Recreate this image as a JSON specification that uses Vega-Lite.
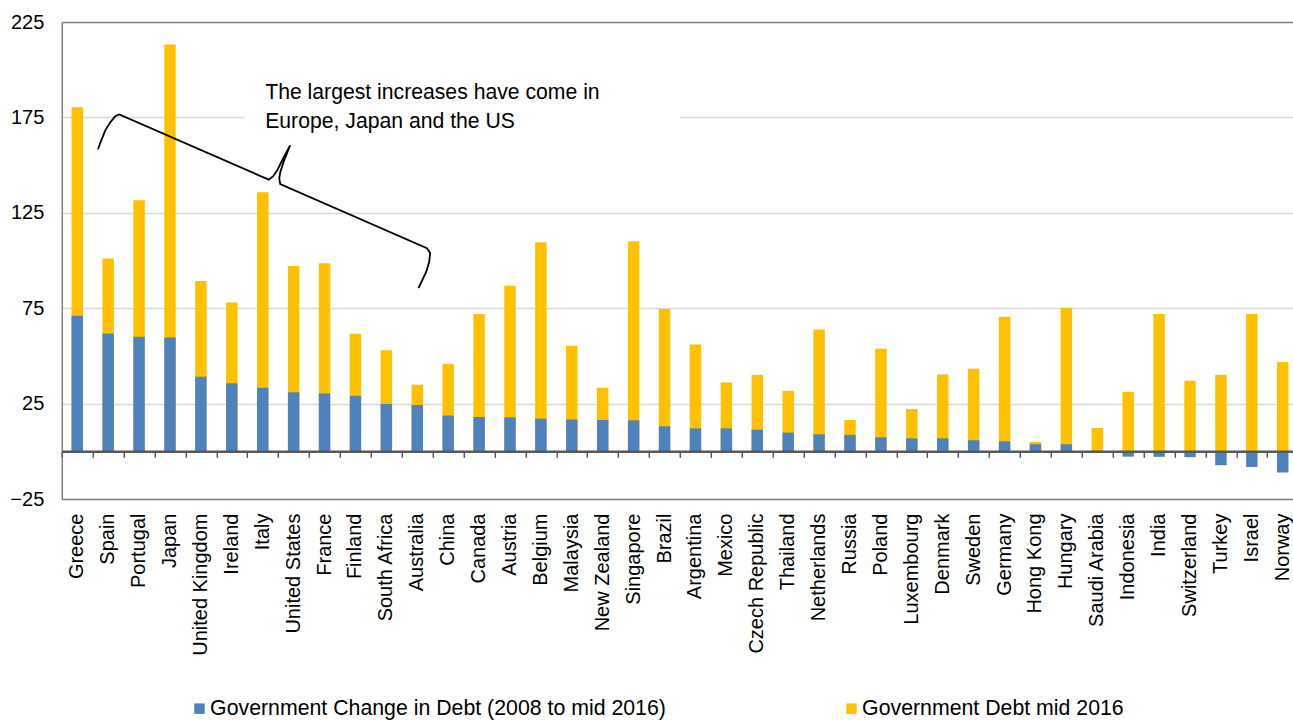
{
  "$schema": "https://vega.github.io/schema/vega-lite/v6.json",
  "width": 1231.2,
  "height": 477,
  "autosize": {"type": "none"},
  "padding": {"left": 61.8, "top": 22, "right": 0, "bottom": 221},
  "background": "white",
  "config": {
    "font": "Liberation Sans",
    "view": {"stroke": null},
    "axis": {"labelColor": "#000000", "labelFont": "Liberation Sans"},
    "legend": {
      "orient": "none",
      "legendX": 127,
      "legendY": 676,
      "direction": "horizontal",
      "symbolType": "square",
      "symbolSize": 110,
      "symbolStrokeWidth": 0,
      "labelFontSize": 21.3,
      "labelFont": "Liberation Sans",
      "labelColor": "#000000",
      "labelOffset": 0,
      "labelLimit": 0,
      "columnPadding": 174,
      "title": null
    }
  },
  "datasets": {
    "debt": [
      {"country": "Greece", "debt": 180.3, "change": 71.0},
      {"country": "Spain", "debt": 101.0, "change": 61.7},
      {"country": "Portugal", "debt": 131.6, "change": 60.0},
      {"country": "Japan", "debt": 213.2, "change": 59.6},
      {"country": "United Kingdom", "debt": 89.3, "change": 39.1},
      {"country": "Ireland", "debt": 78.0, "change": 35.6},
      {"country": "Italy", "debt": 135.8, "change": 33.3},
      {"country": "United States", "debt": 97.1, "change": 30.9},
      {"country": "France", "debt": 98.5, "change": 30.3},
      {"country": "Finland", "debt": 61.6, "change": 29.1},
      {"country": "South Africa", "debt": 53.0, "change": 24.8},
      {"country": "Australia", "debt": 34.9, "change": 24.3},
      {"country": "China", "debt": 45.7, "change": 18.7},
      {"country": "Canada", "debt": 71.9, "change": 18.0},
      {"country": "Austria", "debt": 86.8, "change": 17.8},
      {"country": "Belgium", "debt": 109.6, "change": 17.1},
      {"country": "Malaysia", "debt": 55.3, "change": 16.7},
      {"country": "New Zealand", "debt": 33.3, "change": 16.4},
      {"country": "Singapore", "debt": 110.1, "change": 16.2},
      {"country": "Brazil", "debt": 74.6, "change": 13.1},
      {"country": "Argentina", "debt": 56.0, "change": 12.0},
      {"country": "Mexico", "debt": 36.1, "change": 12.0},
      {"country": "Czech Republic", "debt": 40.1, "change": 11.3},
      {"country": "Thailand", "debt": 31.7, "change": 9.8},
      {"country": "Netherlands", "debt": 63.8, "change": 8.9},
      {"country": "Russia", "debt": 16.4, "change": 8.6},
      {"country": "Poland", "debt": 53.7, "change": 7.3},
      {"country": "Luxembourg", "debt": 22.2, "change": 6.8},
      {"country": "Denmark", "debt": 40.3, "change": 6.8},
      {"country": "Sweden", "debt": 43.3, "change": 5.8},
      {"country": "Germany", "debt": 70.5, "change": 5.2},
      {"country": "Hong Kong", "debt": 4.9, "change": 3.7},
      {"country": "Hungary", "debt": 75.2, "change": 3.7},
      {"country": "Saudi Arabia", "debt": 12.2, "change": 0.3},
      {"country": "Indonesia", "debt": 31.1, "change": -2.8},
      {"country": "India", "debt": 71.9, "change": -2.9},
      {"country": "Switzerland", "debt": 37.0, "change": -3.1},
      {"country": "Turkey", "debt": 40.1, "change": -7.3},
      {"country": "Israel", "debt": 72.0, "change": -8.2},
      {"country": "Norway", "debt": 46.8, "change": -11.1}
    ],
    "box": [{"x": 5.93, "x2": 20.0, "y": 165, "y2": 197}],
    "note": [
      {"x": 6.58, "y": 184.6, "t": "The largest increases have come in"},
      {"x": 6.58, "y": 169.6, "t": "Europe, Japan and the US"}
    ],
    "brace": [
      {"i": 1, "x": 1.171, "y": 158.3},
      {"i": 2, "x": 1.277, "y": 163.0},
      {"i": 3, "x": 1.407, "y": 168.2},
      {"i": 4, "x": 1.569, "y": 172.4},
      {"i": 5, "x": 1.730, "y": 175.6},
      {"i": 6, "x": 1.860, "y": 176.5},
      {"i": 7, "x": 6.695, "y": 142.4},
      {"i": 8, "x": 6.840, "y": 144.2},
      {"i": 9, "x": 6.970, "y": 147.3},
      {"i": 10, "x": 7.164, "y": 153.6},
      {"i": 11, "x": 7.390, "y": 160.4},
      {"i": 12, "x": 7.196, "y": 152.6},
      {"i": 13, "x": 7.067, "y": 146.3},
      {"i": 14, "x": 7.035, "y": 143.1},
      {"i": 15, "x": 7.067, "y": 140.0},
      {"i": 16, "x": 11.811, "y": 106.4},
      {"i": 17, "x": 11.918, "y": 103.9},
      {"i": 18, "x": 11.885, "y": 99.2},
      {"i": 19, "x": 11.788, "y": 94.0},
      {"i": 20, "x": 11.539, "y": 85.5}
    ]
  },
  "layer": [
    {
      "data": {"name": "debt"},
      "layer": [
        {
          "mark": {"type": "bar", "width": {"band": 0.37}},
          "encoding": {
            "x": {
              "field": "country", "type": "nominal", "sort": null,
              "scale": {"paddingInner": 0, "paddingOuter": 0, "range": [0, 1236.4]},
              "axis": {
                "orient": "bottom",
                "title": null, "labelAngle": -90, "labelFontSize": 20, "labelPadding": 14,
                "ticks": false, "domain": true, "domainColor": "#808080", "domainWidth": 1.5,
                "labelLimit": 300
              }
            },
            "y": {
              "field": "debt", "type": "quantitative",
              "scale": {"domain": [-25, 225], "nice": false, "zero": false},
              "axis": {
                "title": null, "values": [-25, 25, 75, 125, 175, 225],
                "labelFontSize": 20, "labelPadding": 18, "ticks": false,
                "domain": true, "domainColor": "#808080", "domainWidth": 1.5,
                "grid": true,
                "gridColor": {"condition": {"test": "datum.value === 225", "value": "#808080"}, "value": "#d9d9d9"},
                "gridWidth": 1.5
              }
            },
            "color": {
              "datum": "Government Debt mid 2016", "type": "nominal",
              "scale": {
                "domain": ["Government Change in Debt (2008 to mid 2016)", "Government Debt mid 2016"],
                "range": ["#4F81BD", "#FFC000"]
              }
            }
          }
        },
        {
          "mark": {"type": "bar", "width": {"band": 0.37}},
          "encoding": {
            "x": {
              "field": "country", "type": "nominal", "sort": null,
              "axis": {
                "orient": "bottom",
                "title": null, "labels": false, "offset": -47.7, "zindex": 1,
                "domain": true, "domainColor": "#595959", "domainWidth": 2.5,
                "ticks": true, "tickBand": "extent", "tickColor": "#595959", "tickWidth": 1.5, "tickSize": 6
              }
            },
            "y": {
              "field": "change", "type": "quantitative",
              "axis": {
                "title": null, "values": [-25, 25, 75, 125, 175, 225],
                "labelFontSize": 20, "labelPadding": 18, "ticks": false,
                "domain": true, "domainColor": "#808080", "domainWidth": 1.5,
                "grid": true,
                "gridColor": {"condition": {"test": "datum.value === 225", "value": "#808080"}, "value": "#d9d9d9"},
                "gridWidth": 1.5
              }
            },
            "color": {"datum": "Government Change in Debt (2008 to mid 2016)", "type": "nominal"}
          }
        }
      ],
      "resolve": {"axis": {"x": "independent"}}
    },
    {
      "layer": [
        {
          "data": {"name": "box"},
          "mark": {"type": "rect", "fill": "white"},
          "encoding": {
            "x": {"field": "x", "type": "quantitative", "scale": {"domain": [0, 40], "range": [0, 1236.4], "nice": false, "zero": false}, "axis": null},
            "x2": {"field": "x2"},
            "y": {"field": "y", "type": "quantitative", "axis": null},
            "y2": {"field": "y2"}
          }
        },
        {
          "data": {"name": "note"},
          "mark": {"type": "text", "align": "left", "baseline": "alphabetic", "fontSize": 21.2, "font": "Liberation Sans", "color": "#000000"},
          "encoding": {
            "x": {"field": "x", "type": "quantitative", "axis": null},
            "y": {"field": "y", "type": "quantitative", "axis": null},
            "text": {"field": "t"}
          }
        },
        {
          "data": {"name": "brace"},
          "mark": {"type": "line", "color": "#000000", "strokeWidth": 1.8, "interpolate": "linear"},
          "encoding": {
            "x": {"field": "x", "type": "quantitative", "axis": null},
            "y": {"field": "y", "type": "quantitative", "axis": null},
            "order": {"field": "i"}
          }
        }
      ]
    }
  ],
  "resolve": {"scale": {"x": "independent"}, "axis": {"y": "independent", "x": "independent"}}
}
